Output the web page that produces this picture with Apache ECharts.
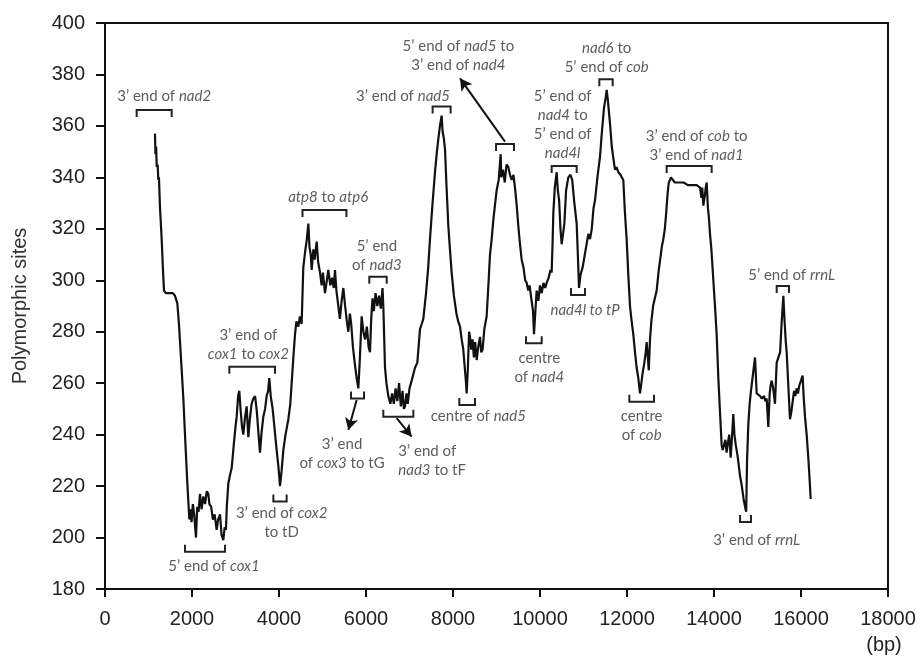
<!DOCTYPE html>
<html>
<head>
<meta charset="utf-8">
<script src="https://cdn.jsdelivr.net/npm/echarts@6/dist/echarts.min.js"></script>
<style>html,body{margin:0;padding:0;background:#fff}#c{width:921px;height:662px}</style>
</head>
<body>
<div id="c"></div>
<script>
// position along the mitochondrial genome (bp)
const bp = [1149,1160,1175,1190,1210,1226,1240,1265,1303,1330,1356,1400,1480,1560,1609,1663,1700,1760,1801,1850,1893,1939,1960,1990,2020,2050,2092,2120,2150,2184,2220,2260,2300,2340,2375,2400,2440,2480,2520,2567,2600,2644,2680,2720,2750,2781,2800,2835,2870,2912,2960,3000,3027,3060,3087,3120,3150,3180,3220,3257,3295,3330,3370,3410,3450,3490,3530,3563,3600,3640,3680,3716,3750,3777,3810,3854,3900,3946,3990,4023,4060,4100,4150,4215,4260,4291,4330,4368,4400,4445,4480,4520,4559,4600,4640,4675,4700,4730,4751,4790,4820,4866,4900,4943,4980,5010,5057,5100,5134,5180,5220,5260,5287,5320,5364,5400,5440,5479,5520,5560,5594,5630,5660,5700,5740,5785,5824,5860,5900,5940,5980,6020,6060,6092,6120,6150,6180,6220,6260,6300,6340,6380,6400,6437,6470,6513,6560,6600,6640,6680,6720,6760,6800,6840,6870,6897,6930,6960,7000,7050,7126,7180,7241,7280,7318,7380,7430,7471,7530,7586,7630,7663,7700,7739,7760,7790,7816,7850,7893,7930,7969,8020,8080,8120,8161,8200,8237,8270,8300,8314,8340,8370,8391,8420,8450,8480,8510,8544,8580,8621,8650,8680,8720,8774,8810,8851,8889,8930,8970,9004,9050,9096,9110,9150,9190,9230,9272,9310,9349,9390,9425,9460,9502,9540,9579,9620,9660,9694,9730,9760,9800,9840,9862,9890,9923,9962,10000,10040,10080,10120,10153,10200,10240,10268,10290,10306,10340,10383,10410,10440,10470,10498,10530,10560,10600,10651,10700,10740,10790,10843,10870,10897,10930,10980,11020,11060,11111,11150,11190,11230,11264,11320,11379,11420,11471,11510,11533,11560,11609,11650,11690,11724,11760,11800,11850,11880,11915,11950,11992,12030,12069,12100,12145,12190,12222,12260,12299,12330,12360,12400,12430,12452,12480,12500,12529,12560,12600,12640,12682,12730,12770,12800,12835,12870,12900,12930,12960,12989,13010,13100,13200,13300,13400,13500,13600,13680,13710,13730,13755,13790,13810,13832,13860,13880,13908,13940,13985,14030,14061,14100,14140,14176,14200,14230,14260,14290,14320,14350,14383,14410,14444,14470,14500,14540,14570,14598,14640,14680,14713,14740,14760,14789,14820,14850,14900,14943,14981,15020,15060,15100,15150,15180,15211,15249,15280,15300,15326,15360,15402,15441,15480,15520,15550,15594,15620,15650,15671,15700,15747,15780,15810,15840,15870,15900,15930,15960,16000,16037,16060,16092,16130,16168,16200,16222];
// number of polymorphic sites in the sliding window
const sites = [357,349,352,344,345,339,340,328,316,305,296,295,295,295,294,291,283,266,254,236,221,207,211,206,213,209,200,212,210,217,211,216,213,218,217,213,212,207,209,203,207,209,201,199,204,203,212,221,224,227,236,243,247,255,257,249,243,240,247,251,239,246,252,254,255,249,240,233,241,247,250,255,257,262,255,250,242,234,227,220,226,234,240,246,252,260,270,279,284,282,286,283,305,311,316,322,313,310,304,312,308,315,307,303,298,303,295,300,304,298,301,297,304,296,290,285,292,297,290,284,280,287,283,274,268,262,258,270,286,280,277,282,274,272,285,293,288,295,290,294,289,297,289,266,260,255,252,256,252,258,253,260,251,257,250,251,256,252,258,261,266,268,281,283,285,295,305,316,330,342,350,355,360,364,358,355,351,337,321,312,303,294,287,284,282,277,273,266,260,256,265,280,278,273,277,270,276,269,274,278,272,273,281,286,297,310,316,324,330,335,339,349,340,343,338,345,344,341,339,341,336,330,321,314,308,305,300,299,296,298,293,288,279,287,296,292,298,295,299,297,299,301,304,303,315,326,336,342,335,331,320,314,318,322,335,340,341,339,330,322,310,297,302,305,309,313,318,316,320,328,331,340,348,357,367,371,374,370,361,352,347,343,344,342,341,340,339,327,316,302,290,285,279,271,266,262,256,260,264,268,272,276,270,265,277,284,290,293,296,304,309,313,316,320,326,333,338,339,340,338,338,338,337,337,337,336,332,336,329,333,336,338,328,325,318,312,300,288,279,262,248,236,234,236,238,233,237,240,231,238,248,240,236,232,228,224,220,215,212,210,230,244,252,257,264,270,256,256,255,254,255,253,254,243,256,259,261,258,252,268,270,272,282,294,285,276,272,262,246,249,253,257,255,258,256,259,261,263,255,247,240,231,222,215];
// y-axis ticks
const yTicks = [180,200,220,240,260,280,300,320,340,360,380,400];
// x-axis ticks
const xTicks = [0,2000,4000,6000,8000,10000,12000,14000,16000,18000];

// brackets: [start bp, end bp, level, direction (1 = ticks down, -1 = ticks up)]
const brackets = [
  [728,1533,366.2,1],[4540,5550,327.3,1],[6076,6476,301.4,1],[7531,7945,367.5,1],
  [8990,9402,353,1],[10268,10843,344.4,1],[11364,11671,378.1,1],[12912,13946,344.4,1],
  [15441,15724,297.8,1],[2858,3908,266.4,1],
  [1839,2759,194.5,-1],[3870,4176,214,-1],[5655,5954,254,-1],[6398,7088,247,-1],
  [8145,8506,251.5,-1],[9678,10039,275.5,-1],[10713,11035,294.3,-1],[12053,12621,252.8,-1],
  [14600,14850,206,-1]
];
// annotation texts: [bp, level, text, align]
const notes = [
  [1360,371.4,'3’ end of {i|nad2}','center'],
  [5130,332.5,'{i|atp8} to {i|atp6}','center'],
  [6250,309.5,'5’ end\nof {i|nad3}','center'],
  [6850,371.4,'3’ end of {i|nad5}','center'],
  [8123,387.2,'5’ end of {i|nad5} to\n3’ end of {i|nad4}','center'],
  [10521,360.6,'5’ end of\n{i|nad4} to\n5’ end of\n{i|nad4l}','center'],
  [11533,386.6,'{i|nad6} to\n5’ end of {i|cob}','center'],
  [13600,352.2,'3’ end of {i|cob} to\n3’ end of {i|nad1}','center'],
  [15785,302,'5’ end of {i|rrnL}','center'],
  [2506,188.7,'5’ end of {i|cox1}','center'],
  [3295,275.1,'3’ end of\n{i|cox1} to {i|cox2}','center'],
  [4061,205.8,'3’ end of {i|cox2}\nto tD','center'],
  [5450,232.8,'3’ end\nof {i|cox3} to tG','center'],
  [6743,229.8,'3’ end of\n{i|nad3} to tF','left'],
  [8582,247,'centre of {i|nad5}','center'],
  [9983,266.1,'centre\nof {i|nad4}','center'],
  [11035,288.5,'{i|nad4l to tP}','center'],
  [12337,243.5,'centre\nof {i|cob}','center'],
  [14980,199,'3’ end of {i|rrnL}','center']
];
// arrows: [from bp, from level, to bp, to level]
const arrows = [
  [9195,353.9,8161,378.5],
  [5785,253.5,5594,241.8],
  [6705,246.4,7050,239.2]
];

const chart = echarts.init(document.getElementById('c'), null, {renderer:'canvas'});
const noteFont = 'Lato';
const noteSize = 15;
chart.setOption({
  animation:false,
  backgroundColor:'#fff',
  grid:{left:105,right:33,top:23,bottom:73,show:true,borderColor:'#111',borderWidth:2},
  xAxis:{
    type:'value',min:xTicks[0],max:xTicks[xTicks.length-1],interval:2000,
    name:'(bp)',nameLocation:'end',nameGap:-4,
    nameTextStyle:{fontFamily:'Liberation Sans',fontSize:20,color:'#222',align:'center',verticalAlign:'top',padding:[46,0,0,0]},
    axisLine:{show:true,lineStyle:{color:'#111',width:2}},
    axisTick:{show:true,inside:false,length:8,lineStyle:{color:'#111',width:2}},
    axisLabel:{fontFamily:'Liberation Sans',fontSize:20,color:'#222',margin:20,formatter:v=>String(v)},
    splitLine:{show:false}
  },
  yAxis:{
    type:'value',min:yTicks[0],max:yTicks[yTicks.length-1],interval:20,
    name:'Polymorphic sites',nameLocation:'middle',nameGap:75,nameRotate:90,
    nameTextStyle:{fontFamily:'Liberation Sans',fontSize:20,color:'#333'},
    axisLine:{show:true,lineStyle:{color:'#111',width:2}},
    axisTick:{show:true,inside:false,length:9,lineStyle:{color:'#111',width:2}},
    axisLabel:{fontFamily:'Liberation Sans',fontSize:20,color:'#222',margin:20,formatter:v=>String(v)},
    splitLine:{show:false}
  },
  series:[
    {
      type:'line',data:bp.map((x,i)=>[x,sites[i]]),showSymbol:false,symbol:'none',
      lineStyle:{color:'#111',width:2.2},z:3,silent:true
    },
    {
      type:'custom',data:brackets,coordinateSystem:'cartesian2d',clip:false,z:4,silent:true,
      encode:{x:[0,1],y:2},
      renderItem:function(params,api){
        const p1=api.coord([api.value(0),api.value(2)]);
        const p2=api.coord([api.value(1),api.value(2)]);
        const d=api.value(3)*7;
        return {type:'polyline',shape:{points:[[p1[0],p1[1]+d],[p1[0],p1[1]],[p2[0],p2[1]],[p2[0],p2[1]+d]]},
          style:{stroke:'#222',lineWidth:2,fill:null}};
      },
      markLine:{
        silent:true,symbol:['none','arrow'],symbolSize:[10,12],
        lineStyle:{color:'#111',width:2,type:'solid'},label:{show:false},
        data:arrows.map(a=>[{coord:[a[0],a[1]]},{coord:[a[2],a[3]]}])
      }
    },
    {
      type:'scatter',symbolSize:0,z:5,silent:true,
      data:notes.map(n=>({value:[n[0],n[1]],label:{formatter:n[2],align:n[3]}})),
      label:{
        show:true,position:'inside',verticalAlign:'middle',
        fontFamily:noteFont,fontSize:noteSize,color:'#333',lineHeight:19,
        rich:{i:{fontStyle:'italic',fontFamily:noteFont,fontSize:noteSize,color:'#333',lineHeight:19}}
      }
    }
  ]
});
</script>
</body>
</html>
